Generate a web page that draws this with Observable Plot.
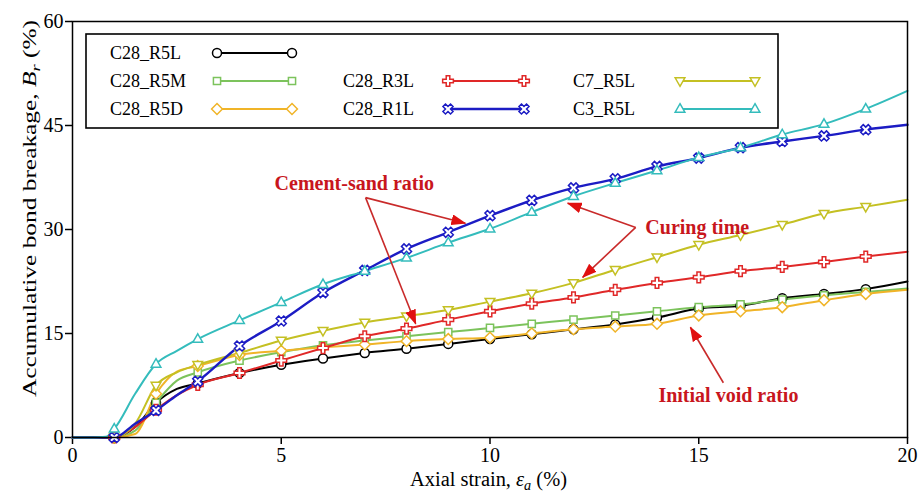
<!DOCTYPE html>
<html>
<head>
<meta charset="utf-8">
<script src="https://cdn.jsdelivr.net/npm/d3@7"></script>
<script src="https://cdn.jsdelivr.net/npm/@observablehq/plot@0.6"></script>
<style>
  body { margin: 0; background: #fff; }
  svg [aria-label*="axis"] path, svg [aria-label*="axis"] line { stroke-width: 1.5px; }
</style>
</head>
<body>
<div id="chart"></div>
<script>
// ---- data ----
const strain = [0, 0.5, 0.8, 1, 1.5, 2, 2.5, 3, 4, 5, 6, 7, 8, 9, 10, 11, 12, 13, 14, 15, 16, 17, 18, 19, 20];
const C28_R5L = [0, 0, 0, 0, 1.5, 5.0, 7.0, 7.8, 9.3, 10.5, 11.4, 12.2, 12.8, 13.5, 14.2, 14.9, 15.6, 16.3, 17.3, 18.6, 19.0, 20.1, 20.7, 21.4, 22.5];
const C28_R5M = [0, 0, 0, 0, 1.0, 5.0, 8.2, 9.4, 11.1, 12.3, 13.3, 14.0, 14.6, 15.2, 15.8, 16.4, 17.0, 17.6, 18.2, 18.8, 19.2, 19.9, 20.5, 21.0, 21.5];
const C28_R5D = [0, 0, 0, 0, 0.5, 6.3, 9.5, 10.3, 11.9, 12.5, 13.0, 13.4, 13.9, 14.2, 14.4, 15.0, 15.6, 16.0, 16.4, 17.6, 18.2, 18.8, 19.8, 20.7, 21.3];
const C28_R3L = [0, 0, 0, 0, 1.5, 4.0, 6.1, 7.6, 9.3, 11.1, 12.9, 14.6, 15.7, 17.0, 18.2, 19.3, 20.2, 21.3, 22.3, 23.1, 24.0, 24.6, 25.3, 26.1, 26.8];
const C28_R1L = [0, 0, 0, 0, 2.0, 3.9, 6.1, 8.1, 13.2, 16.8, 20.9, 24.1, 27.2, 29.6, 32.0, 34.2, 36.0, 37.3, 39.1, 40.3, 41.8, 42.7, 43.5, 44.4, 45.1];
const C7_R5L  = [0, 0, 0, 0, 2.0, 7.5, 9.4, 10.5, 12.2, 14.0, 15.4, 16.6, 17.5, 18.4, 19.6, 20.8, 22.3, 24.2, 26.0, 27.8, 29.2, 30.7, 32.3, 33.3, 34.3];
const C3_R5L  = [0, 0, 0.1, 1.25, 6.3, 10.6, 12.5, 14.2, 16.9, 19.5, 22.1, 24.0, 25.9, 28.1, 30.1, 32.5, 34.8, 36.7, 38.5, 40.4, 41.8, 43.7, 45.2, 47.4, 50.0];

const seriesNames  = ["C28_R5L", "C28_R5M", "C28_R5D", "C28_R3L", "C7_R5L", "C28_R1L", "C3_R5L"];
const seriesValues = [C28_R5L, C28_R5M, C28_R5D, C28_R3L, C7_R5L, C28_R1L, C3_R5L];
const seriesColors = ["#000000", "#7cc35c", "#f0b428", "#e02828", "#c4c023", "#1c1cc4", "#34bcbc"];
const seriesSymbols = ["circle", "square", "diamond", "plus", "tridown", "times", "triup"];

const xTicks = [0, 5, 10, 15, 20];
const yTicks = [0, 15, 30, 45, 60];

// annotations (data units)
const annoText = ["Cement-sand ratio", "Curing time", "Initial void ratio"];
const annoX = [6.75, 13.72, 15.71];
const annoY = [36.6, 30.3, 6.1];
const annoAnchor = ["middle", "start", "middle"];
const arrowX1 = [7.02, 7.02, 13.49, 13.49, 15.59];
const arrowY1 = [34.6, 34.6, 30.3, 30.3, 7.9];
const arrowX2 = [9.41, 8.22, 11.86, 12.22, 14.80];
const arrowY2 = [30.9, 16.4, 33.8, 23.1, 15.9];

// ---- symbols ----
function rot(p, a) { const c = Math.cos(a), s = Math.sin(a); return [p[0]*c - p[1]*s, p[0]*s + p[1]*c]; }
function poly(ctx, pts) { ctx.moveTo(pts[0][0], pts[0][1]); for (let i = 1; i < pts.length; i++) ctx.lineTo(pts[i][0], pts[i][1]); ctx.closePath(); }
function crossPts(size) {
  const r = Math.sqrt(size / 5) / 2;
  return [[-3*r,-r],[-r,-r],[-r,-3*r],[r,-3*r],[r,-r],[3*r,-r],[3*r,r],[r,r],[r,3*r],[-r,3*r],[-r,r],[-3*r,r]];
}
const symbolTypes = {
  circle: d3.symbolCircle,
  square: { draw(ctx, size) { const w = Math.sqrt(size) * 0.9 / 2; poly(ctx, [[-w,-w],[w,-w],[w,w],[-w,w]]); } },
  diamond: { draw(ctx, size) { const w = Math.sqrt(size) * 0.68; poly(ctx, [[0,-w],[w,0],[0,w],[-w,0]]); } },
  plus: { draw(ctx, size) { poly(ctx, crossPts(size)); } },
  times: { draw(ctx, size) { poly(ctx, crossPts(size).map(p => rot(p, Math.PI / 4))); } },
  triup: { draw(ctx, size) { const k = Math.sqrt(size) * 0.66; poly(ctx, [[0,-k],[k*0.92,k*0.6],[-k*0.92,k*0.6]]); } },
  tridown: { draw(ctx, size) { const k = Math.sqrt(size) * 0.66; poly(ctx, [[0,k],[k*0.92,-k*0.6],[-k*0.92,-k*0.6]]); } }
};

// ---- tidy rows ----
const rows = [];
seriesNames.forEach((n, si) => strain.forEach((s, i) => rows.push({ name: n, s, v: seriesValues[si][i] })));

const marks = [];
seriesNames.forEach((n, si) => {
  const data = rows.filter(d => d.name === n);
  marks.push(Plot.line(data, { x: "s", y: "v", stroke: seriesColors[si], strokeWidth: n === "C28_R1L" ? 2.4 : 2, curve: "monotone-x" }));
});
seriesNames.forEach((n, si) => {
  const data = rows.filter(d => d.name === n && Number.isInteger(d.s) && d.s >= 1 && d.s <= 19);
  marks.push(Plot.dot(data, { x: "s", y: "v", symbol: symbolTypes[seriesSymbols[si]], r: 4.5, stroke: seriesColors[si], fill: "white", strokeWidth: 1.5 }));
});

const idx = d3.range(arrowX1.length);
const textMarks = annoText.map((t, i) => Plot.text([i], {
  x: () => annoX[i], y: () => annoY[i], text: () => annoText[i], textAnchor: annoAnchor[i],
  fill: "#c8161d", fontWeight: "bold", fontSize: 20
}));

const chart = Plot.plot({
  width: 921, height: 492,
  marginLeft: 72, marginRight: 14, marginTop: 21, marginBottom: 55,
  style: { fontFamily: '"Liberation Serif", "Times New Roman", serif', fontSize: "20px", color: "#000", background: "#fff", overflow: "visible" },
  x: { domain: [0, 20], ticks: xTicks, tickSize: 7, tickPadding: 3, label: null },
  y: { domain: [0, 60], ticks: yTicks, tickSize: 7, tickPadding: 2, label: null },
  marks: [
    ...marks,
    Plot.link(idx, { x1: i => arrowX1[i], y1: i => arrowY1[i], x2: i => arrowX2[i], y2: i => arrowY2[i], stroke: "#c92a2a", strokeWidth: 1.6 }),
    ...textMarks,
    Plot.frame({ stroke: "#000", strokeWidth: 1.5 })
  ]
});
document.getElementById("chart").appendChild(chart);

// ---- post-processing: arrowheads, axis labels, legend ----
const svg = d3.select(chart);
const defs = svg.insert("defs", ":first-child");
defs.append("marker").attr("id", "ah").attr("markerUnits", "userSpaceOnUse")
  .attr("markerWidth", 15).attr("markerHeight", 11).attr("refX", 14).attr("refY", 5.5).attr("orient", "auto")
  .append("path").attr("d", "M0,0L15,5.5L0,11Z").attr("fill", "#e01010");
svg.selectAll('g[aria-label="link"] path').attr("marker-end", "url(#ah)");

const font = '"Liberation Serif", "Times New Roman", serif';
const yl = svg.append("text").attr("transform", "translate(36,208.5) rotate(-90)")
  .attr("text-anchor", "middle").attr("font-family", font).attr("font-size", 18).attr("fill", "#000")
  .attr("textLength", 377).attr("lengthAdjust", "spacingAndGlyphs");
yl.append("tspan").text("Accumulative bond breakage, ");
yl.append("tspan").attr("font-style", "italic").text("B");
yl.append("tspan").attr("font-style", "italic").attr("font-size", 13).attr("dy", 4).text("r");
yl.append("tspan").attr("dy", -4).text(" (%)");

const xl = svg.append("text").attr("x", 488.5).attr("y", 486)
  .attr("text-anchor", "middle").attr("font-family", font).attr("font-size", 20).attr("fill", "#000")
  .attr("textLength", 157).attr("lengthAdjust", "spacingAndGlyphs");
xl.append("tspan").text("Axial strain, ");
xl.append("tspan").attr("font-style", "italic").text("ε");
xl.append("tspan").attr("font-style", "italic").attr("font-size", 14).attr("dy", 4).text("a");
xl.append("tspan").attr("dy", -4).text(" (%)");

// legend
const legendOrder = ["C28_R5L", "C28_R5M", "C28_R5D", "C28_R3L", "C28_R1L", "C7_R5L", "C3_R5L"];
const legendCol = [0, 0, 0, 1, 1, 2, 2];
const legendRow = [0, 1, 2, 1, 2, 1, 2];
const colTextX = [110, 343, 573];
const colLineX = [[217, 292], [448, 524], [680, 755]];
const rowY = [53, 81, 109];
const lg = svg.append("g").attr("text-anchor", "start");
lg.append("rect").attr("x", 86).attr("y", 34).attr("width", 692).attr("height", 94)
  .attr("fill", "white").attr("stroke", "#000").attr("stroke-width", 1.6);
legendOrder.forEach((n, k) => {
  const si = seriesNames.indexOf(n);
  const c = legendCol[k], y = rowY[legendRow[k]];
  lg.append("text").attr("x", colTextX[c]).attr("y", y + 6).attr("text-anchor", "start")
    .attr("font-family", font).attr("font-size", 18).attr("fill", "#000").text(n);
  const [a, b] = colLineX[c];
  lg.append("line").attr("x1", a).attr("x2", b).attr("y1", y).attr("y2", y)
    .attr("stroke", seriesColors[si]).attr("stroke-width", n === "C28_R1L" ? 2.4 : 2);
  const path = d3.symbol(symbolTypes[seriesSymbols[si]], Math.PI * 4.5 * 4.5)();
  [a, b].forEach(px => lg.append("path").attr("d", path).attr("transform", `translate(${px},${y})`)
    .attr("fill", "white").attr("stroke", seriesColors[si]).attr("stroke-width", 1.5));
});
</script>
</body>
</html>
